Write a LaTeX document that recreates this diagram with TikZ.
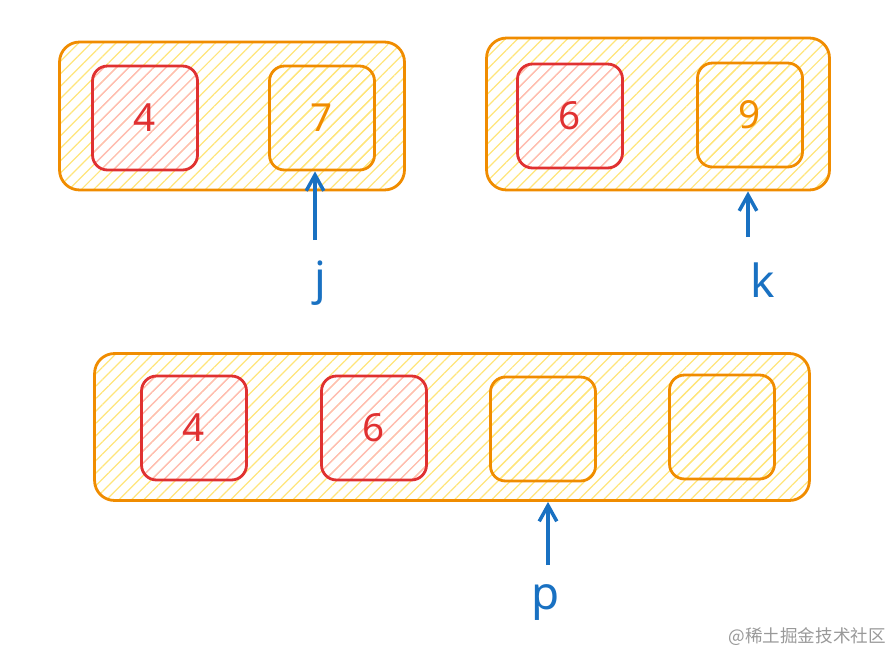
\documentclass[tikz,border=0pt]{standalone}
\usepackage{fontspec}
\setmainfont{Noto Sans}
\newfontfamily\cjk{Noto Sans CJK SC}
\usetikzlibrary{arrows.meta,patterns.meta}

\definecolor{sketchorange}{HTML}{F08C00}
\definecolor{sketchred}{HTML}{E03131}
\definecolor{sketchblue}{HTML}{1971C2}
\definecolor{hatchyellow}{HTML}{FFE57A}
\definecolor{hatchpink}{HTML}{FFB8B8}

\tikzset{
  hatch/.style={pattern={Lines[angle=45,distance=5pt,line width=0.7pt]}, pattern color=#1},
  outerbox/.style={draw=sketchorange, line width=1.6pt, rounded corners=0.4cm, hatch=hatchyellow},
  redcell/.style={draw=sketchred, line width=1.6pt, rounded corners=0.3cm, hatch=hatchpink,
    minimum width=2.1cm, minimum height=2.08cm, text=sketchred, font=\fontsize{22}{26}\selectfont},
  orangecell/.style={redcell, draw=sketchorange, hatch=hatchyellow, text=sketchorange},
  pointer/.style={draw=sketchblue, line width=2pt, -{Straight Barb[length=9pt,width=10pt]}},
  ptrlabel/.style={text=sketchblue, font=\fontsize{26}{30}\selectfont}
}

\begin{document}
\begin{tikzpicture}[x=0.02cm, y=-0.02cm]
  \useasboundingbox (0,0) rectangle (896,656);

  % first list
  \node[outerbox, minimum width=6.9cm, minimum height=2.96cm] (top1) at (232,116) {};
  \node[redcell] (c4) at (145,118) {4};
  \node[orangecell] (c7) at (322,118) {7};

  % second list
  \node[outerbox, minimum width=6.86cm, minimum height=3.04cm] (top2) at (658,114) {};
  \node[redcell] (c6) at (570,116) {6};
  \node[orangecell] (c9) at (750,115) {9};

  % merged list
  \node[outerbox, minimum width=14.3cm, minimum height=2.94cm] (bot) at (452,427) {};
  \node[redcell] (m1) at (194,428) {4};
  \node[redcell] (m2) at (374,428) {6};
  \node[orangecell] (m3) at (543,429) {};
  \node[orangecell] (m4) at (722,427) {};

  % pointers
  \node[ptrlabel] (jlab) at (320,283) {j};
  \node[ptrlabel] (klab) at (763,280) {k};
  \node[ptrlabel] (plab) at (546,603) {p};
  \coordinate (jtail) at (315,240);
  \coordinate (ktail) at (748,237);
  \coordinate (ptail) at (548,565);
  \draw[pointer] (jtail) -- (jtail |- c7.south);
  \draw[pointer] (ktail) -- (ktail |- top2.south);
  \draw[pointer] (ptail) -- (ptail |- bot.south);

  \node[text=black!40, font=\cjk\fontsize{10}{12}\selectfont, anchor=east] (mark) at (892,637) {@稀土掘金技术社区};
\end{tikzpicture}
\end{document}
